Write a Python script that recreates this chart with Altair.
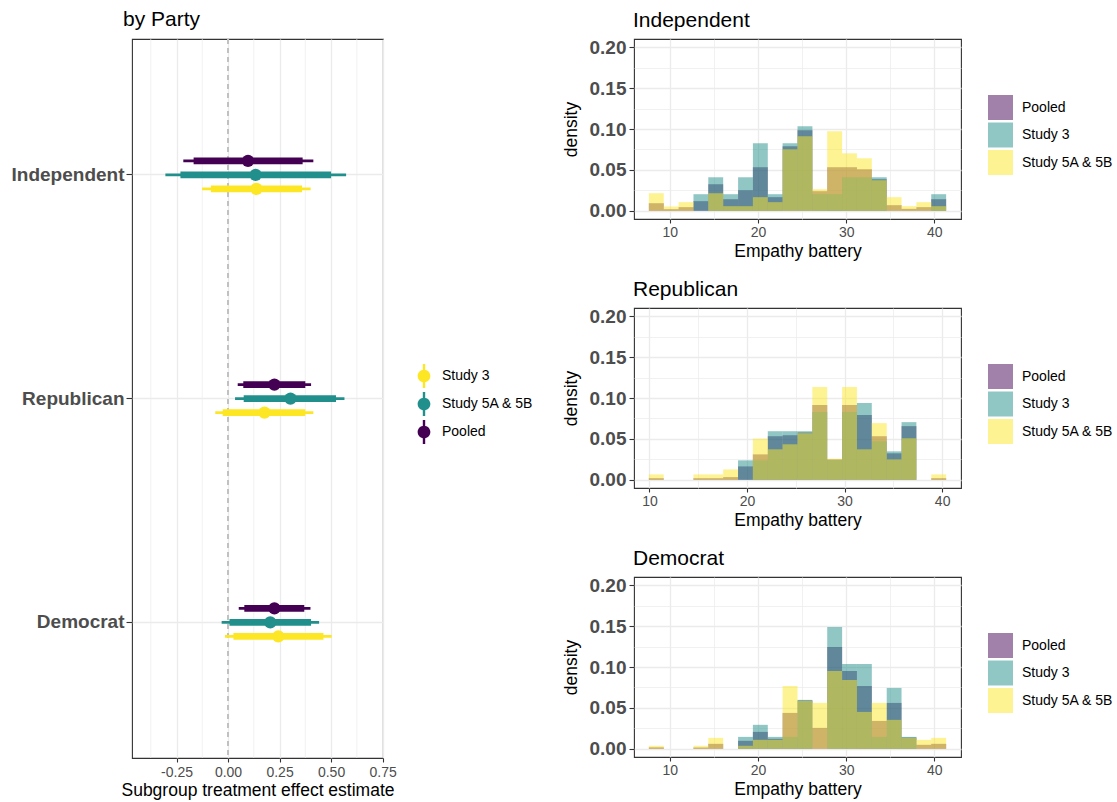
import altair as alt
import pandas as pd

# ---------------- Left panel: subgroup treatment effects ----------------
parties = ["Independent", "Republican", "Democrat"]
dodge_order = ["Pooled", "Study 5A & 5B", "Study 3"]          # top -> bottom within party
legend_order = ["Study 3", "Study 5A & 5B", "Pooled"]
legend_colors = ["#FDE725", "#21908C", "#440154"]

row_party = ["Independent"] * 3 + ["Republican"] * 3 + ["Democrat"] * 3
row_study = ["Pooled", "Study 5A & 5B", "Study 3"] * 3
estimate = [0.097, 0.134, 0.138, 0.225, 0.303, 0.177, 0.225, 0.205, 0.244]
inner_lo = [-0.167, -0.231, -0.083, 0.074, 0.076, -0.026, 0.079, 0.007, 0.026]
inner_hi = [0.362, 0.500, 0.359, 0.375, 0.524, 0.375, 0.370, 0.403, 0.463]
outer_lo = [-0.217, -0.304, -0.126, 0.047, 0.034, -0.062, 0.052, -0.031, -0.015]
outer_hi = [0.414, 0.573, 0.401, 0.403, 0.565, 0.414, 0.400, 0.442, 0.503]

effects = pd.DataFrame({
    "party": row_party, "study": row_study, "est": estimate,
    "lo": inner_lo, "hi": inner_hi, "lo2": outer_lo, "hi2": outer_hi,
})

x_left_major = [-0.25, 0.0, 0.25, 0.5, 0.75]
x_left_minor = [-0.375, -0.125, 0.125, 0.375, 0.625]
minor_grid = pd.DataFrame({"g": x_left_minor})

pointrange_path = ("M-0.1,-1 L0.1,-1 L0.1,-0.5 L-0.1,-0.5 Z "
                   "M-0.1,0.5 L0.1,0.5 L0.1,1 L-0.1,1 Z "
                   "M0.53,0 A0.53,0.53 0 1,1 -0.53,0 A0.53,0.53 0 1,1 0.53,0 Z")

left_legend = alt.Legend(
    title=None, orient="none", legendX=280, legendY=325,
    symbolType=pointrange_path, symbolSize=576, symbolStrokeWidth=0,
    labelFontSize=14, labelOffset=6, rowPadding=4, padding=0,
)

left_x_axis = alt.Axis(
    title="Subgroup treatment effect estimate", values=x_left_major, format=".2f",
    labelExpr="replace(datum.label, '\u2212', '-')",
    grid=True, gridWidth=1.3, labelOverlap=False, labelFlush=False,
    titlePadding=2, labelPadding=3,
)
left_x_scale = alt.Scale(domain=[-0.466, 0.752], nice=False, zero=False)

y_left = alt.Y(
    "party:N", sort=parties,
    scale=alt.Scale(type="band", domain=parties, paddingInner=0, paddingOuter=0.107),
    axis=alt.Axis(title=None, labelFontWeight="bold", labelFontSize=19, tickSize=6,
                  labelPadding=2, bandPosition=0.5, grid=True, gridWidth=1.3),
)
y_off = alt.YOffset(
    "study:N", sort=dodge_order,
    scale=alt.Scale(domain=dodge_order, range=[91, 133], paddingInner=0, paddingOuter=0),
)
col_left = alt.Color(
    "study:N", sort=legend_order,
    scale=alt.Scale(domain=legend_order, range=legend_colors),
    legend=left_legend,
)

minor_lines = alt.Chart(minor_grid).mark_rule(color="#ebebeb", strokeWidth=0.7).encode(
    x=alt.X("g:Q", scale=left_x_scale, axis=left_x_axis)
)
base_left = alt.Chart(effects)
zero_line = base_left.mark_rule(color="#c2c2c2", strokeDash=[5, 4], strokeWidth=1).encode(
    x=alt.datum(0)
)
thin = base_left.mark_rule(strokeWidth=2.7).encode(
    x=alt.X("lo2:Q", scale=left_x_scale, axis=left_x_axis), x2="hi2:Q",
    y=y_left, yOffset=y_off, color=col_left
)
thick = base_left.mark_rule(strokeWidth=6.7).encode(
    x=alt.X("lo:Q", scale=left_x_scale, axis=left_x_axis), x2="hi:Q",
    y=y_left, yOffset=y_off, color=col_left
)
dots = base_left.mark_circle(size=150, opacity=1).encode(
    x=alt.X("est:Q", scale=left_x_scale, axis=left_x_axis),
    y=y_left, yOffset=y_off, color=col_left
)
left = alt.layer(minor_lines, zero_line, thin, thick, dots).properties(
    width=251, height=719,
    title=alt.TitleParams("by Party", anchor="start", frame="group", dx=-9, offset=9),
)

# ---------------- Right panels: Empathy battery histograms ----------------
groups = ["Pooled", "Study 3", "Study 5A & 5B"]
group_colors = ["#440154", "#21908C", "#FDE725"]

edges_ind = [7.62, 9.31, 10.99, 12.68, 14.36, 16.05, 17.74, 19.42, 21.11, 22.79, 24.48,
             26.17, 27.85, 29.54, 31.22, 32.91, 34.60, 36.28, 37.97, 39.65, 41.34]
edges_rep = [9.94, 11.46, 12.99, 14.51, 16.03, 17.56, 19.08, 20.60, 22.13, 23.65, 25.18,
             26.70, 28.22, 29.75, 31.27, 32.79, 34.32, 35.84, 37.36, 38.89, 40.41]
edges_dem = edges_ind

ind_pooled = [0.0093, 0.002, 0.0045, 0.0118, 0.0325, 0.0142, 0.0252, 0.0533, 0.0167, 0.0789,
              0.0984, 0.024, 0.0533, 0.0533, 0.0508, 0.0386, 0.0069, 0.0024, 0.0045, 0.0142]
ind_study3 = [0, 0, 0, 0.0203, 0.041, 0.0203, 0.041, 0.0825, 0.0203, 0.0825,
              0.1033, 0.0203, 0.0203, 0.041, 0.041, 0.041, 0, 0, 0, 0.0203]
ind_study5 = [0.0215, 0.0053, 0.0106, 0, 0.0215, 0.0057, 0.0057, 0.0167, 0.0106, 0.0752,
              0.0911, 0.0264, 0.0972, 0.0703, 0.0642, 0.0374, 0.0167, 0.0057, 0.0106, 0.0057]

rep_pooled = [0.002, 0, 0, 0.002, 0.002, 0.0033, 0.0164, 0.0311, 0.0533, 0.0545,
              0.0578, 0.0914, 0.025, 0.0914, 0.0791, 0.0533, 0.0324, 0.0656, 0, 0.002]
rep_study3 = [0, 0, 0, 0, 0, 0, 0.0238, 0.0238, 0.0594, 0.0594,
              0.0594, 0.0828, 0.0242, 0.0828, 0.0939, 0.0471, 0.0348, 0.0705, 0, 0]
rep_study5 = [0.0066, 0, 0, 0.0066, 0.0066, 0.0127, 0, 0.0504, 0.0373, 0.0434,
              0.057, 0.1135, 0.0258, 0.1135, 0.0373, 0.0693, 0.025, 0.0508, 0, 0.0066]

dem_pooled = [0.0018, 0, 0, 0.0016, 0.0061, 0, 0.0098, 0.0207, 0.0122, 0.0439,
              0.059, 0.0256, 0.1244, 0.0951, 0.0768, 0.0341, 0.0561, 0.0138, 0.0049, 0.0061]
dem_study3 = [0, 0, 0, 0, 0, 0, 0.0146, 0.0293, 0.0146, 0.0146,
              0.0598, 0, 0.1488, 0.1037, 0.1037, 0.0146, 0.0744, 0.0146, 0, 0]
dem_study5 = [0.0037, 0, 0, 0.0037, 0.0134, 0, 0.0037, 0.011, 0.011, 0.0768,
              0.0585, 0.0561, 0.0951, 0.0841, 0.0451, 0.0561, 0.0354, 0.0134, 0.011, 0.0134]

hist_x_ticks = [10, 15, 20, 25, 30, 35, 40]
hist_y_ticks = [0, 0.025, 0.05, 0.075, 0.1, 0.125, 0.15, 0.175, 0.2]
x_major = "datum.value % 10 == 0"
y_major = "abs(datum.value*20 - round(datum.value*20)) < 0.001"


def hist_frame(edges, pooled, s3, s5):
    rows = []
    for g, vals in zip(groups, [pooled, s3, s5]):
        for i, v in enumerate(vals):
            if v > 0:
                rows.append({"group": g, "lo": edges[i], "hi": edges[i + 1], "density": v})
    return pd.DataFrame(rows)


def hist_panel(title, edges, pooled, s3, s5):
    df = hist_frame(edges, pooled, s3, s5)
    span = edges[-1] - edges[0]
    dom = [edges[0] - 0.05 * span, edges[-1] + 0.05 * span]
    return alt.Chart(df).mark_bar(opacity=0.5).encode(
        x=alt.X("lo:Q", scale=alt.Scale(domain=dom, nice=False, zero=False),
                axis=alt.Axis(title="Empathy battery", values=hist_x_ticks,
                              labelExpr="(" + x_major + ") ? format(datum.value, 'd') : ''",
                              tickOpacity={"condition": {"test": x_major, "value": 1}, "value": 0},
                              gridWidth={"condition": {"test": x_major, "value": 1.3}, "value": 0.7},
                              labelOverlap=False, labelFlush=False, titlePadding=3)),
        x2="hi:Q",
        y=alt.Y("density:Q", scale=alt.Scale(domain=[-0.01, 0.21], nice=False, zero=False),
                axis=alt.Axis(title="density", values=hist_y_ticks,
                              labelExpr="(" + y_major + ") ? format(datum.value, '.2f') : ''",
                              tickOpacity={"condition": {"test": y_major, "value": 1}, "value": 0},
                              gridWidth={"condition": {"test": y_major, "value": 1.3}, "value": 0.7},
                              labelOverlap=False, labelFlush=False, labelFontWeight="bold",
                              labelFontSize=19, tickSize=5, labelPadding=3, titlePadding=9)),
        y2=alt.datum(0),
        color=alt.Color("group:N", scale=alt.Scale(domain=groups, range=group_colors),
                        legend=alt.Legend(title=None, orient="none", legendX=354, legendY=56,
                                          symbolType="square", symbolSize=625,
                                          symbolOpacity=0.5, symbolStrokeWidth=0,
                                          labelFontSize=14, labelOffset=9, rowPadding=2.5,
                                          padding=0)),
    ).properties(
        width=327, height=180,
        title=alt.TitleParams(title, anchor="start", frame="group", dx=-1, offset=7),
    )


right = alt.vconcat(
    hist_panel("Independent", edges_ind, ind_pooled, ind_study3, ind_study5),
    hist_panel("Republican", edges_rep, rep_pooled, rep_study3, rep_study5),
    hist_panel("Democrat", edges_dem, dem_pooled, dem_study3, dem_study5),
    bounds="flush", spacing=89,
).resolve_scale(color="independent", x="independent")

chart = alt.hconcat(left, right, bounds="flush", spacing=251).resolve_scale(
    color="independent"
).properties(
    padding={"left": 10, "top": 7, "right": 1, "bottom": 4}
).configure(
    font="Liberation Sans"
).configure_view(
    stroke="#333333", strokeWidth=1.1
).configure_axis(
    domain=False, tickColor="#333333", tickSize=4, tickWidth=1.1,
    labelColor="#4d4d4d", labelFontSize=14, labelFont="Liberation Sans",
    titleFontSize=17.5, titleColor="black", titleFontWeight="normal",
    titleFont="Liberation Sans",
    gridColor="#ebebeb",
).configure_title(
    fontSize=21, fontWeight="normal", color="black", font="Liberation Sans", anchor="start"
).configure_legend(
    labelColor="black", labelFont="Liberation Sans"
)

chart.save("out.html", embed_options={"renderer": "svg", "actions": False})
